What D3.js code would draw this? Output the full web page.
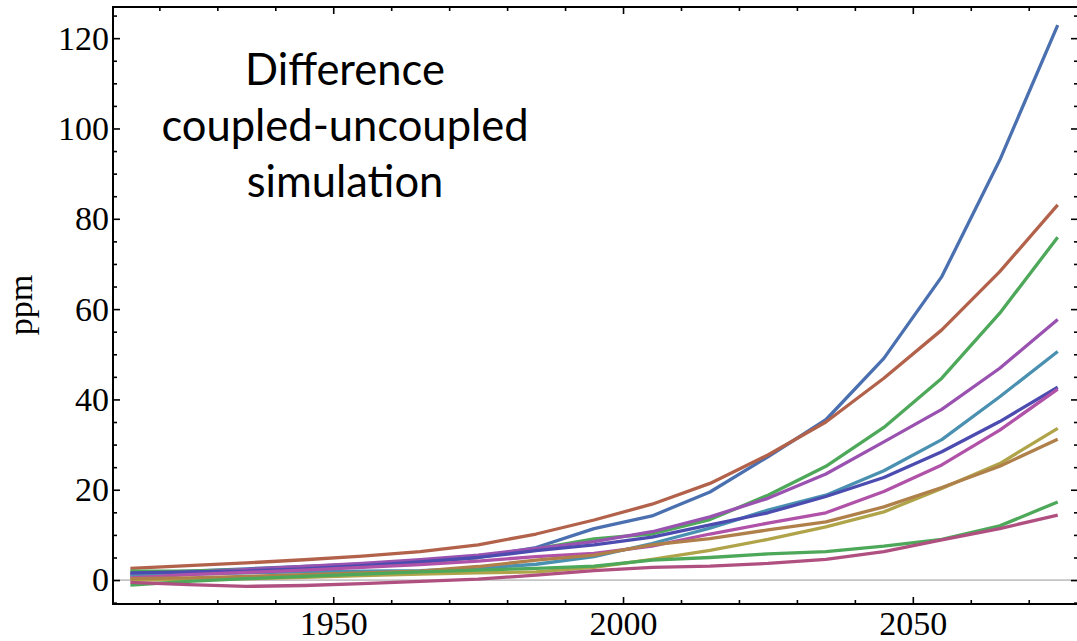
<!DOCTYPE html>
<html>
<head>
<meta charset="utf-8">
<script src="https://cdn.jsdelivr.net/npm/d3@7"></script>
<style>
  body { margin: 0; background: #fff; }
  svg { display: block; }
</style>
</head>
<body>
<div id="chart"></div>
<script>
// years of the simulation output (every 10 years)
var years = [1915, 1925, 1935, 1945, 1955, 1965, 1975, 1985, 1995, 2005, 2015, 2025, 2035, 2045, 2055, 2065, 2075];

// difference coupled - uncoupled, ppm, one array per run
var runBlue    = [1.5, 2.0, 2.5, 3.0, 3.5, 4.2, 5.1, 7.2, 11.4, 14.2, 19.5, 27.3, 35.5, 49.1, 67.2, 93.0, 122.9];
var runBrown   = [2.6, 3.2, 3.8, 4.5, 5.3, 6.3, 7.8, 10.2, 13.3, 16.8, 21.4, 27.7, 35.0, 44.7, 55.4, 68.3, 83.1];
var runGreen   = [2.0, 2.0, 2.3, 2.8, 3.3, 4.0, 5.0, 6.9, 9.1, 10.2, 13.4, 18.8, 25.2, 33.8, 44.7, 59.1, 75.9];
var runPurple  = [1.2, 1.7, 2.3, 3.0, 3.7, 4.5, 5.5, 7.0, 8.5, 10.7, 14.0, 18.1, 23.5, 30.6, 37.8, 46.9, 57.7];
var runTeal    = [0.8, 1.3, 1.6, 1.8, 2.0, 2.1, 2.6, 3.5, 5.2, 8.1, 11.5, 15.5, 18.8, 24.2, 31.1, 40.6, 50.6];
var runIndigo  = [1.6, 1.8, 2.0, 2.5, 3.2, 4.0, 5.0, 6.5, 7.8, 9.5, 12.2, 14.9, 18.5, 22.7, 28.4, 35.1, 42.7];
var runMagenta = [0.5, 1.2, 1.7, 2.2, 2.8, 3.4, 4.2, 5.2, 5.9, 7.5, 10.2, 12.6, 14.9, 19.6, 25.5, 33.2, 42.3];
var runOlive   = [0.0, 0.1, 0.3, 0.6, 1.0, 1.3, 1.6, 1.8, 2.8, 4.6, 6.6, 9.0, 11.8, 15.1, 20.3, 25.8, 33.6];
var runOrange  = [0.3, 0.5, 0.8, 1.2, 1.6, 2.0, 3.0, 4.4, 5.5, 7.8, 9.2, 11.1, 12.9, 16.2, 20.5, 25.2, 31.2];
var runGreen2  = [-1.1, -0.3, 0.3, 0.8, 1.3, 1.8, 2.2, 2.6, 3.1, 4.4, 5.0, 5.8, 6.3, 7.5, 9.0, 12.0, 17.3];
var runPink    = [-0.5, -1.0, -1.4, -1.2, -0.8, -0.3, 0.2, 1.1, 2.1, 2.8, 3.1, 3.7, 4.6, 6.3, 8.9, 11.4, 14.4];

var runs = [runBlue, runBrown, runGreen, runPurple, runTeal, runIndigo, runMagenta, runOlive, runOrange, runGreen2, runPink];
var runColors = ["#4a70b0", "#b2624a", "#4ea85a", "#9a52b0", "#4a90b0", "#4c4cb0", "#b052a8", "#b0a44a", "#b0804a", "#4ea85a", "#b05080"];

var xMajor = [1950, 2000, 2050];
var xMinor = [1920, 1930, 1940, 1960, 1970, 1980, 1990, 2010, 2020, 2030, 2040, 2060, 2070];
var yMajor = [0, 20, 40, 60, 80, 100, 120];
var yMinor = [-5, 5, 10, 15, 25, 30, 35, 45, 50, 55, 65, 70, 75, 85, 90, 95, 105, 110, 115, 125];

var titleLines = ["Difference", "coupled-uncoupled", "simulation"];

var width = 1077, height = 641;
var frame = {left: 113, right: 1078, top: 7, bottom: 604};

var x = d3.scaleLinear().domain([1912, 2078.5]).range([frame.left, frame.right]);
var y = d3.scaleLinear().domain([-5.3, 126.9]).range([frame.bottom, frame.top]);

var svg = d3.select("#chart").append("svg")
  .attr("width", width)
  .attr("height", height);

// zero axis line
svg.append("line")
  .attr("x1", frame.left).attr("x2", frame.right)
  .attr("y1", y(0)).attr("y2", y(0))
  .attr("stroke", "#999")
  .attr("stroke-width", 1);

var line = d3.line()
  .x(function(d, i) { return x(years[i]); })
  .y(function(d) { return y(d); });

svg.append("g").selectAll("path")
  .data(runs)
  .enter().append("path")
    .attr("d", line)
    .attr("fill", "none")
    .attr("stroke", function(d, i) { return runColors[i]; })
    .attr("stroke-width", 3.3)
    .attr("stroke-linejoin", "round");

// frame with inward ticks on all sides
function styleAxis(g) {
  g.select(".domain").remove();
  g.selectAll(".tick line").attr("stroke", "#000").attr("stroke-width", 1.6);
  g.selectAll("text")
    .attr("font-family", "'Liberation Serif', 'Times New Roman', serif")
    .attr("font-size", 34)
    .attr("fill", "#000");
}

svg.append("g")
  .attr("transform", "translate(" + frame.left + ",0)")
  .call(d3.axisLeft(y).tickValues(yMajor).tickSize(-7).tickPadding(4))
  .call(styleAxis);
svg.append("g")
  .attr("transform", "translate(" + frame.left + ",0)")
  .call(d3.axisLeft(y).tickValues(yMinor).tickSize(-4).tickFormat(""))
  .call(styleAxis);
svg.append("g")
  .attr("transform", "translate(" + frame.right + ",0)")
  .call(d3.axisRight(y).tickValues(yMajor).tickSize(-7).tickFormat(""))
  .call(styleAxis);
svg.append("g")
  .attr("transform", "translate(" + frame.right + ",0)")
  .call(d3.axisRight(y).tickValues(yMinor).tickSize(-4).tickFormat(""))
  .call(styleAxis);

svg.append("g")
  .attr("transform", "translate(0," + frame.bottom + ")")
  .call(d3.axisBottom(x).tickValues(xMajor).tickSize(-7).tickPadding(7).tickFormat(d3.format("d")))
  .call(styleAxis);
svg.append("g")
  .attr("transform", "translate(0," + frame.bottom + ")")
  .call(d3.axisBottom(x).tickValues(xMinor).tickSize(-4).tickFormat(""))
  .call(styleAxis);
svg.append("g")
  .attr("transform", "translate(0," + frame.top + ")")
  .call(d3.axisTop(x).tickValues(xMajor).tickSize(-7).tickFormat(""))
  .call(styleAxis);
svg.append("g")
  .attr("transform", "translate(0," + frame.top + ")")
  .call(d3.axisTop(x).tickValues(xMinor).tickSize(-4).tickFormat(""))
  .call(styleAxis);

svg.append("rect")
  .attr("x", frame.left).attr("y", frame.top)
  .attr("width", frame.right - frame.left)
  .attr("height", frame.bottom - frame.top)
  .attr("fill", "none")
  .attr("stroke", "#000")
  .attr("stroke-width", 2);

// y label
svg.append("text")
  .attr("transform", "translate(32,305) rotate(-90)")
  .attr("text-anchor", "middle")
  .attr("font-family", "'Liberation Serif', 'Times New Roman', serif")
  .attr("font-size", 34)
  .text("ppm");

// title
svg.append("g").selectAll("text")
  .data(titleLines)
  .enter().append("text")
    .attr("x", 345)
    .attr("y", function(d, i) { return 85 + i * 56; })
    .attr("text-anchor", "middle")
    .attr("font-family", "Lato, 'Open Sans', sans-serif")
    .attr("font-size", 43.5)
    .attr("fill", "#000")
    .text(function(d) { return d; });
</script>
</body>
</html>
